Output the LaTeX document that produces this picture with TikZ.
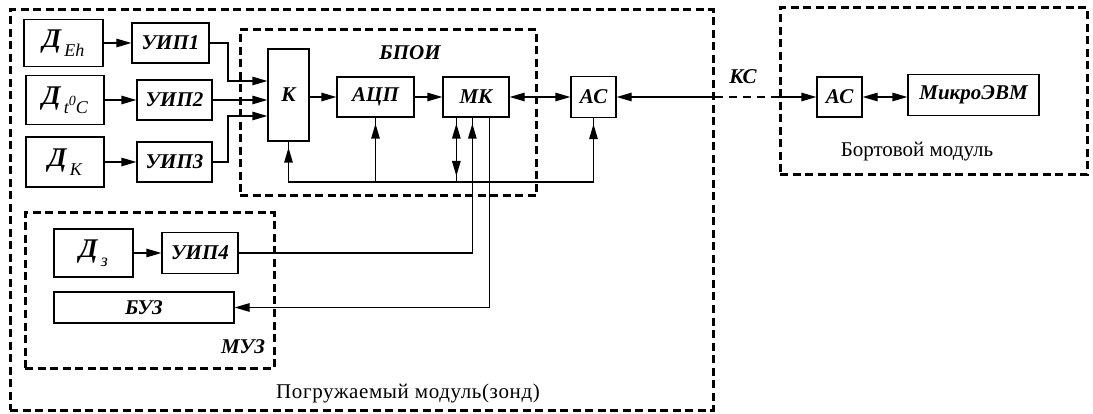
\documentclass[tikz,border=0pt]{standalone}
\usepackage{fontspec}
\setmainfont{Liberation Serif}
\usetikzlibrary{arrows.meta}
\newcommand\lblfont{\fontsize{21}{23}\selectfont\bfseries\itshape}
\newcommand\Dfont{\fontsize{27}{29}\selectfont\bfseries\itshape}
\newcommand\subf{\fontsize{18}{20}\selectfont\mdseries\itshape}
\newcommand\plainf{\fontsize{21}{23}\selectfont\mdseries\upshape}
\newcommand\Dsub[1]{{\Dfont Д}\,\raisebox{-9pt}{\subf #1}}
\tikzset{
  tip/.tip={Triangle[length=15pt,width=8.5pt]},
  box/.style={draw, line width=1.3pt, inner sep=0pt, font=\lblfont},
  grp/.style={draw, line width=3pt, dash pattern=on 8pt off 4.5pt, inner sep=0pt},
  conn/.style={line width=1.3pt},
  arr/.style={conn, -tip},
  darr/.style={conn, tip-tip},
  uparr/.style={arr, shorten >=6pt},
  lbl/.style={inner sep=0pt, font=\lblfont},
  plain/.style={inner sep=0pt, font=\plainf},
}
\begin{document}
\begin{tikzpicture}[x=1pt,y=-1pt]
\useasboundingbox (0,0) rectangle (1093,414);
% groups
\node[grp, minimum width=703pt, minimum height=400pt] (outer) at (361.5,210) {};
\node[grp, minimum width=296pt, minimum height=166pt] (bpoi) at (388,113) {};
\node[grp, minimum width=249pt, minimum height=155pt] (muz) at (149.5,290.5) {};
\node[grp, minimum width=307pt, minimum height=167pt] (bort) at (933.5,91.5) {};
% sensors and converters
\node[box, minimum width=79pt, minimum height=47pt] (DEh) at (63.5,43) {\Dsub{Eh}};
\node[box, minimum width=77pt, minimum height=40pt] (UIP1) at (170.5,43) {УИП1};
\node[box, minimum width=78pt, minimum height=49pt] (Dt) at (65,100) {{\Dfont Д}\,\raisebox{-9pt}{\subf t\raisebox{8pt}{\fontsize{14}{14}\selectfont 0}C}};
\node[box, minimum width=75pt, minimum height=40pt] (UIP2) at (174.5,100) {УИП2};
\node[box, minimum width=78pt, minimum height=50pt] (Dk) at (65,162) {\Dsub{K}};
\node[box, minimum width=75pt, minimum height=40pt] (UIP3) at (174.5,162) {УИП3};
% BPOI
\node[box, minimum width=41pt, minimum height=92pt] (K) at (288.5,95) {К};
\node[box, minimum width=77pt, minimum height=40pt] (ADC) at (375.5,97) {АЦП};
\node[box, minimum width=66pt, minimum height=40pt] (MK) at (476,97) {МК};
\node[box, minimum width=45pt, minimum height=41pt] (AC1) at (593.5,97) {АС};
% board
\node[box, minimum width=45pt, minimum height=40pt] (AC2) at (839.5,97) {АС};
\node[box, minimum width=131pt, minimum height=41pt] (EVM) at (973.5,95) {МикроЭВМ};
% MUZ
\node[box, minimum width=79pt, minimum height=48pt] (Dz) at (93.5,253) {\Dsub{з}};
\node[box, minimum width=76pt, minimum height=41pt] (UIP4) at (200,253) {УИП4};
\node[box, minimum width=180pt, minimum height=31pt] (BUZ) at (144,307.5) {БУЗ};
% labels
\node[lbl] (tBPOI) at (410,53) {БПОИ};
\node[lbl] (tMUZ) at (243,347) {МУЗ};
\node[lbl] (tKS) at (743,77) {КС};
\node[plain] (tPog) at (408,393) {\addfontfeatures{LetterSpace=3}Погружаемый модуль(зонд)};
\node[plain] (tBort) at (917,152) {Бортовой модуль};
% connectors: sensors -> converters
\draw[arr] (DEh.east) -- (UIP1.west);
\draw[arr] (Dt.east) -- (UIP2.west);
\draw[arr] (Dk.east) -- (UIP3.west);
\draw[arr] (Dz.east) -- (UIP4.west);
% converters -> K
\draw[arr] (UIP1.east) -| (228,81) -- (K.west |- 0,81);
\draw[arr] (UIP2.east) -- (K.west |- UIP2.east);
\draw[arr] (UIP3.east) -| (228,116) -- (K.west |- 0,116);
% main chain
\draw[arr] (K.east |- ADC.west) -- (ADC.west);
\draw[arr] (ADC.east) -- (MK.west);
\draw[darr] (MK.east) -- (AC1.west);
\draw[conn, tip-] (AC1.east) -- (outer.east |- AC1.east);
\draw[conn, dash pattern=on 8pt off 6pt] (outer.east |- AC1.east) -- (bort.west |- AC1.east);
\draw[arr] (bort.west |- AC2.west) -- (AC2.west);
\draw[darr] (AC2.east) -- (EVM.west |- AC2.east);
% bus
\draw[conn] (K.south) -- (K.south |- 0,182) -- (AC1.south |- 0,182) -- (AC1.south);
\draw[uparr] (K.south |- 0,182) -- (K.south);
\draw[conn] (ADC.south) -- (ADC.south |- 0,182);
\draw[uparr] (ADC.south |- 0,182) -- (ADC.south);
\draw[uparr] (AC1.south |- 0,182) -- (AC1.south);
\draw[conn] ([xshift=14pt]MK.south west) -- ([xshift=14pt]MK.south west |- 0,182);
\draw[darr, shorten <=6pt, shorten >=6pt] ([xshift=14pt]MK.south west) -- ([xshift=14pt]MK.south west |- 0,182);
% MUZ links
\draw[conn] (UIP4.east) -| ([xshift=30pt]MK.south west);
\draw[uparr] (UIP4.east) -| ([xshift=30pt]MK.south west);
\draw[arr] ([xshift=47pt]MK.south west) |- (BUZ.east);
\end{tikzpicture}
\end{document}
